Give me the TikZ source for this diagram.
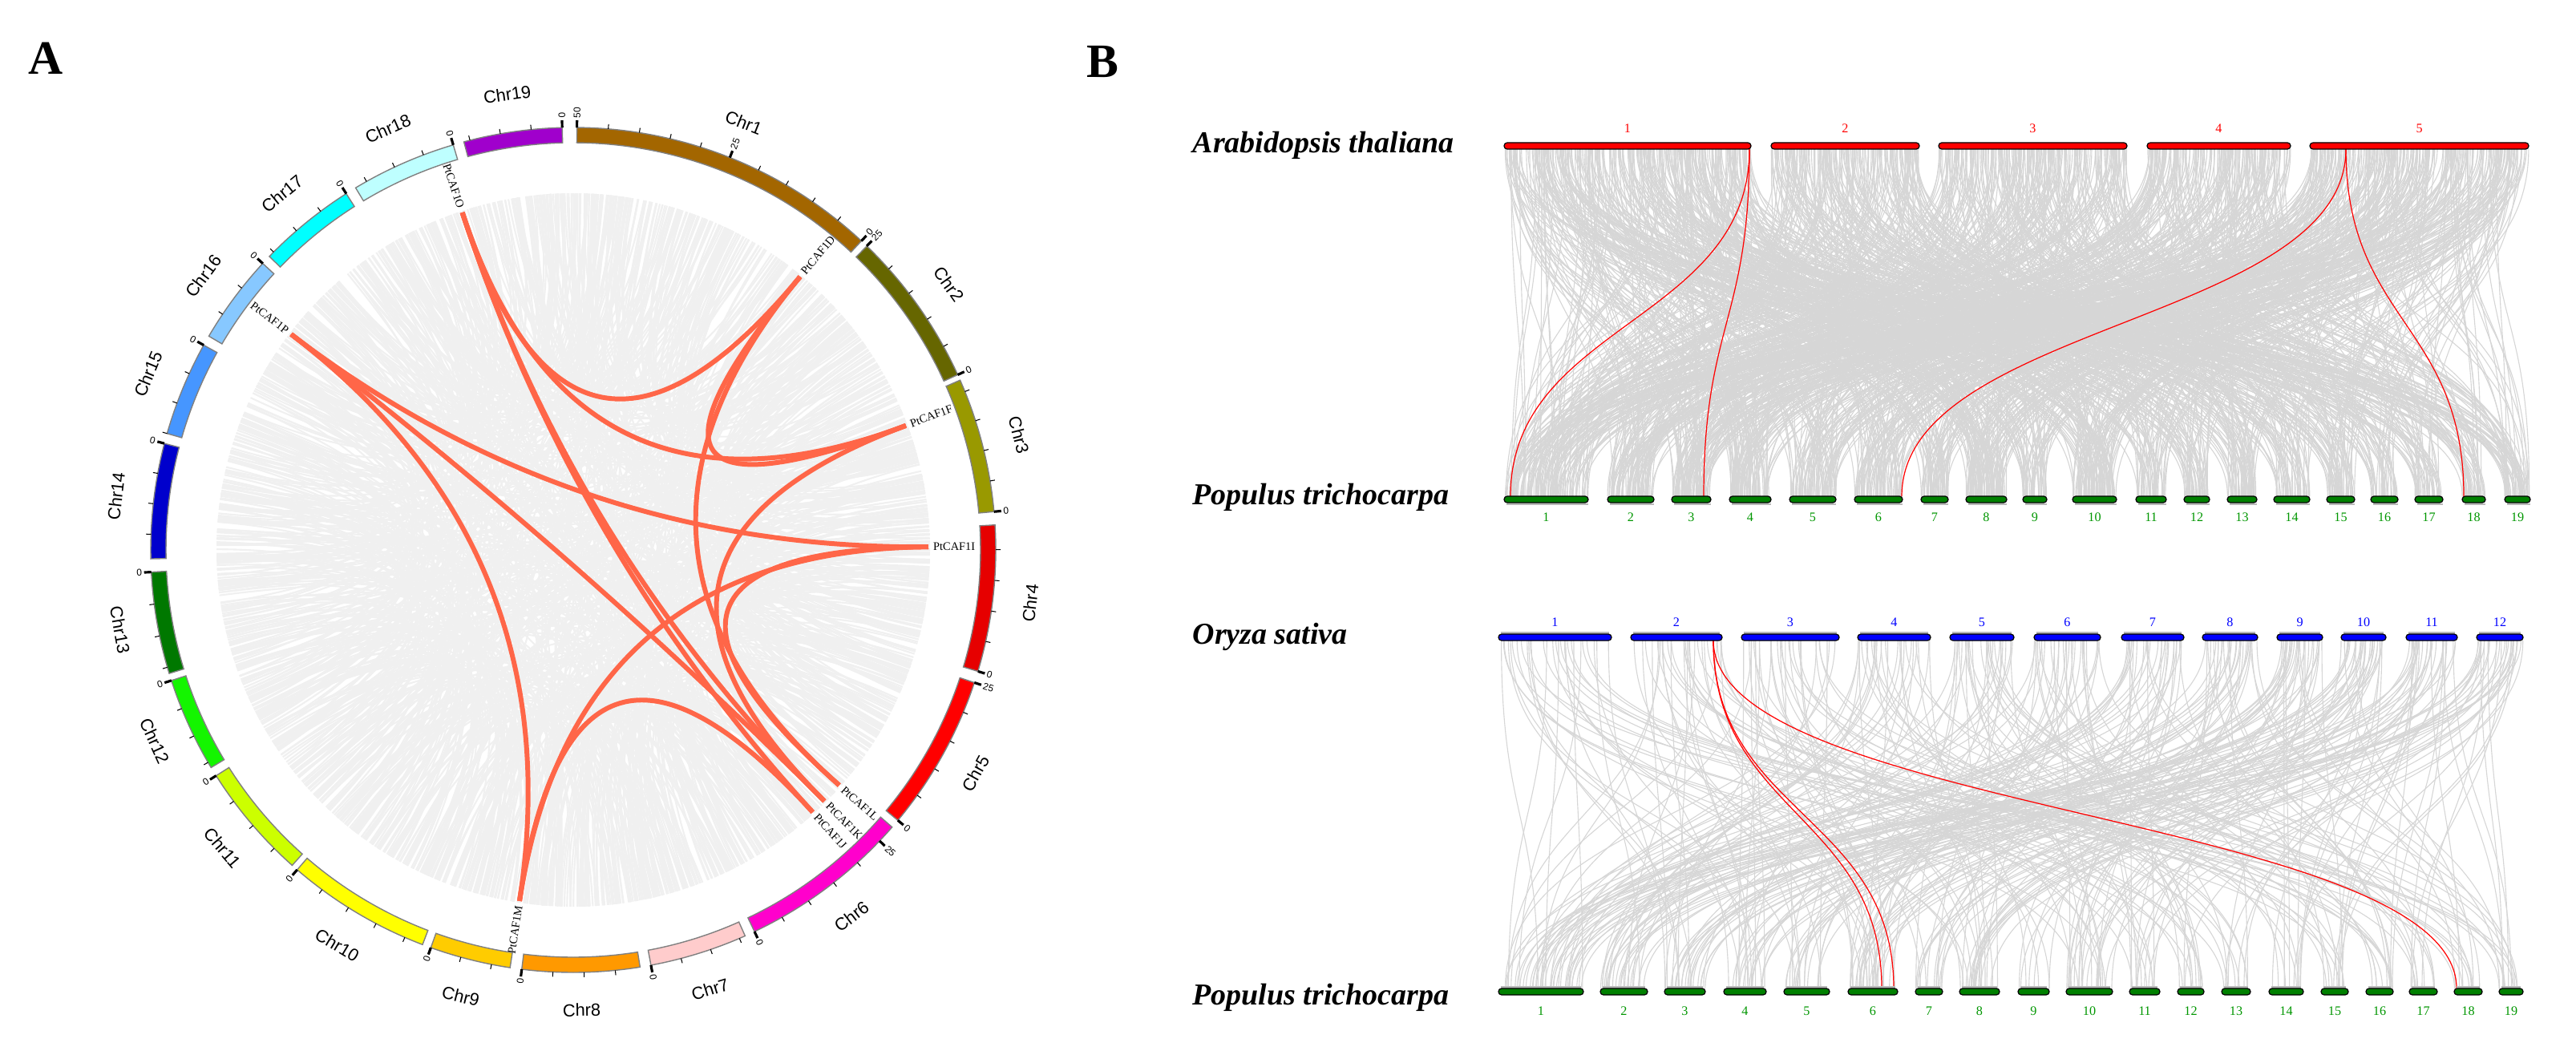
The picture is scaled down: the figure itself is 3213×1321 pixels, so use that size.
\documentclass[tikz,border=0pt]{standalone}
\usepackage{fontspec}
\setmainfont{Liberation Serif}
\setsansfont{Liberation Sans}
\usetikzlibrary{calc}

\definecolor{c1}{RGB}{163,102,0}
\definecolor{c2}{RGB}{102,102,0}
\definecolor{c3}{RGB}{153,153,0}
\definecolor{c4}{RGB}{230,0,0}
\definecolor{c5}{RGB}{255,0,0}
\definecolor{c6}{RGB}{255,0,204}
\definecolor{c7}{RGB}{255,204,204}
\definecolor{c8}{RGB}{255,153,0}
\definecolor{c9}{RGB}{255,204,0}
\definecolor{c10}{RGB}{255,255,0}
\definecolor{c11}{RGB}{204,255,0}
\definecolor{c12}{RGB}{20,245,0}
\definecolor{c13}{RGB}{0,120,0}
\definecolor{c14}{RGB}{0,0,204}
\definecolor{c15}{RGB}{70,150,255}
\definecolor{c16}{RGB}{135,200,255}
\definecolor{c17}{RGB}{0,255,255}
\definecolor{c18}{RGB}{190,255,255}
\definecolor{c19}{RGB}{160,0,204}
\definecolor{cafred}{RGB}{255,102,72}
\definecolor{ribbongray}{RGB}{240,240,240}
\definecolor{syngray}{RGB}{214,214,214}
\definecolor{atred}{RGB}{255,0,0}
\definecolor{ptgreen}{RGB}{0,128,0}
\definecolor{numgreen}{RGB}{0,150,0}
\definecolor{osblue}{RGB}{0,0,255}

\begin{document}
\begin{tikzpicture}[x=0.1mm,y=-0.1mm,
    chrband/.style={draw=gray, line width=0.4pt},
    chrname/.style={font=\sffamily\fontsize{6.2}{7}\selectfont, inner sep=0pt},
    ticklab/.style={font=\sffamily\fontsize{3.4}{4}\selectfont, inner sep=0.3pt},
    minortick/.style={line width=0.3pt},
    majortick/.style={line width=0.9pt},
    genelab/.style={font=\fontsize{4.1}{5}\selectfont, inner sep=0.4pt},
    ribbon/.style={ribbongray, line width=0.6pt},
    caflink/.style={cafred, line width=1.7pt},
    synline/.style={syngray, line width=0.32pt},
    synred/.style={red, line width=0.35pt},
    panel/.style={font=\bfseries\fontsize{17}{20}\selectfont, inner sep=0pt, anchor=base west},
    species/.style={font=\bfseries\itshape\fontsize{10.8}{13}\selectfont, inner sep=0pt, anchor=base west},
    barnum/.style={font=\fontsize{4.6}{5}\selectfont, inner sep=0pt},
    atbar/.style={draw=black, fill=atred, line width=0.35pt, rounded corners=1.1pt},
    ptbar/.style={draw=black, fill=ptgreen, line width=0.35pt, rounded corners=1.1pt},
    osbar/.style={draw=black, fill=osblue, line width=0.35pt, rounded corners=1.1pt},
    shine/.style={fill=gray!55}]
\useasboundingbox (0,0) rectangle (3213,1321);

\node[panel] (labA) at (35,93) {A};
\node[panel] (labB) at (1355,97) {B};

\begin{scope}[shift={(715,686)}]
  \coordinate (ctr) at (0,0);
  \pgfmathsetseed{11}
  \foreach \i in {1,...,900}{
    \pgfmathsetmacro{\ta}{rnd*360-90}
    \pgfmathsetmacro{\tb}{rnd*360-90}
    \draw[ribbon] (\ta:445) .. controls (\ta:148) and (\tb:148) .. (\tb:445);
  }

  \foreach \g/\ang in {D/39.7, F/69.5, I/89.5, L/131.5, K/135, J/137.6, M/188.7, P/307.4, O/341.8}{
    \coordinate (g\g) at (\ang-90:443);
    \ifdim\ang pt>180pt
      \pgfmathsetmacro{\rl}{270-\ang}
      \node[genelab, rotate=\rl, anchor=east] (lab\g) at (\ang-90:447) {PtCAF1\g};
    \else
      \pgfmathsetmacro{\rl}{90-\ang}
      \node[genelab, rotate=\rl, anchor=west] (lab\g) at (\ang-90:447) {PtCAF1\g};
    \fi
  }

  \foreach \a/\b in {O/D, O/F, O/K, O/J, D/F, D/L, P/I, P/K, P/M, F/K, I/L, I/M, M/J}{
    \draw[caflink] (g\a) .. controls ($(ctr)!1/3!(g\a)$) and ($(ctr)!1/3!(g\b)$) .. (g\b);
  }

  \foreach \n/\s/\e/\len in {1/0.5/43/50, 2/44/65.5/25, 3/66.3/84.8/22, 4/86.6/106.7/24,
      5/108.3/129.8/25, 6/131/154.6/28, 7/156/169.4/16, 8/170.9/187/19, 9/188.6/199.7/13,
      10/200.9/220.8/23, 11/221.7/237.7/19, 12/239/252/16, 13/253/267/16, 14/268.8/284.6/19,
      15/286/299/15, 16/300.4/312.7/14, 17/314/327.5/16, 18/329/343.5/17, 19/345/358.5/16}{
    \filldraw[chrband, fill=c\n] (\s-90:508) arc[start angle=\s-90, end angle=\e-90, radius=508]
      -- (\e-90:527) arc[start angle=\e-90, end angle=\s-90, radius=527] -- cycle;
    \pgfmathsetmacro{\m}{(\s+\e)/2}
    \pgfmathsetmacro{\rot}{(\m>90 && \m<270) ? 180-\m : -\m}
    \node[chrname, rotate=\rot] (chr\n) at (\m-90:574) {Chr\n};
    \pgfmathsetmacro{\stp}{(\e-\s)/\len}
    \foreach \k in {0,5,...,50}{
      \pgfmathtruncatemacro{\ok}{\k<=\len}
      \ifnum\ok=1
        \pgfmathsetmacro{\tk}{\e-\k*\stp}
        \pgfmathtruncatemacro{\major}{mod(\k,25)==0}
        \ifnum\major=1
          \draw[majortick] (\tk-90:527) -- (\tk-90:536);
          \ifdim\tk pt>180pt
            \pgfmathsetmacro{\rl}{270-\tk}
            \node[ticklab, rotate=\rl, anchor=east] (tick\n-\k) at (\tk-90:537) {\k};
          \else
            \pgfmathsetmacro{\rl}{90-\tk}
            \node[ticklab, rotate=\rl, anchor=west] (tick\n-\k) at (\tk-90:537) {\k};
          \fi
        \else
          \draw[minortick] (\tk-90:527) -- (\tk-90:533);
        \fi
      \fi
    }
  }
\end{scope}

\foreach \n/\a/\b in {1/1876/2184, 2/2209/2394, 3/2418/2653, 4/2678/2857, 5/2881/3154}{
  \coordinate (at\n-w) at (\a,186);
  \coordinate (at\n-e) at (\b,186);
}
\foreach \n/\a/\b in {1/1876/1981, 2/2005/2063, 3/2085/2134, 4/2157/2209, 5/2232/2290,
    6/2313/2373, 7/2396/2430, 8/2452/2503, 9/2523/2553, 10/2585/2640, 11/2664/2702,
    12/2724/2756, 13/2778/2815, 14/2836/2881, 15/2902/2937, 16/2957/2991, 17/3012/3047,
    18/3071/3100, 19/3124/3156}{
  \coordinate (pt\n-w) at (\a,619);
  \coordinate (pt\n-e) at (\b,619);
}
\foreach \n/\a/\b in {1/1869/2010, 2/2034/2148, 3/2172/2294, 4/2317/2408, 5/2432/2512,
    6/2537/2620, 7/2646/2724, 8/2747/2816, 9/2840/2897, 10/2920/2976, 11/3001/3065, 12/3089/3147}{
  \coordinate (os\n-w) at (\a,799);
  \coordinate (os\n-e) at (\b,799);
}
\foreach \n/\a/\b in {1/1869/1975, 2/1996/2055, 3/2076/2127, 4/2150/2203, 5/2225/2282,
    6/2305/2367, 7/2389/2423, 8/2444/2494, 9/2517/2556, 10/2577/2635, 11/2656/2694,
    12/2716/2749, 13/2771/2807, 14/2830/2873, 15/2895/2929, 16/2951/2985, 17/3005/3040,
    18/3061/3096, 19/3117/3147}{
  \coordinate (pb\n-w) at (\a,1233);
  \coordinate (pb\n-e) at (\b,1233);
}

\pgfmathdeclarerandomlist{ptchr}{{pt1}{pt1}{pt1}{pt2}{pt2}{pt3}{pt3}{pt4}{pt4}{pt5}{pt5}{pt6}{pt6}
  {pt7}{pt8}{pt8}{pt9}{pt10}{pt10}{pt11}{pt12}{pt13}{pt14}{pt15}{pt16}{pt17}{pt18}{pt19}}
\pgfmathdeclarerandomlist{pbchr}{{pb1}{pb1}{pb1}{pb2}{pb2}{pb3}{pb3}{pb4}{pb4}{pb5}{pb5}{pb6}{pb6}
  {pb7}{pb8}{pb8}{pb9}{pb10}{pb10}{pb11}{pb12}{pb13}{pb14}{pb15}{pb16}{pb17}{pb18}{pb19}}

\foreach \n/\cnt in {1/330, 2/200, 3/250, 4/190, 5/290}{
  \foreach \i in {1,...,\cnt}{
    \pgfmathsetmacro{\fa}{rnd}
    \pgfmathsetmacro{\fb}{rnd}
    \pgfmathrandomitem{\pc}{ptchr}
    \path ($(at\n-w)!\fa!(at\n-e)$) coordinate (u) ($(\pc-w)!\fb!(\pc-e)$) coordinate (v);
    \draw[synline] (u) .. controls ($(u)+(0,240)$) and ($(v)+(0,-240)$) .. (v);
  }
}
\foreach \n in {1,...,12}{
  \foreach \i in {1,...,30}{
    \pgfmathsetmacro{\fa}{rnd}
    \pgfmathsetmacro{\fb}{rnd}
    \pgfmathrandomitem{\pc}{pbchr}
    \path ($(os\n-w)!\fa!(os\n-e)$) coordinate (u) ($(\pc-w)!\fb!(\pc-e)$) coordinate (v);
    \draw[synline] (u) .. controls ($(u)+(0,225)$) and ($(v)+(0,-225)$) .. (v);
  }
}

\coordinate (a1x) at (2182,186);
\coordinate (a5x) at (2926,186);
\coordinate (p1x) at (1884,619);
\coordinate (p3x) at (2125,619);
\coordinate (p6x) at (2372,619);
\coordinate (p18x) at (3073,619);
\coordinate (o2x) at (2137,799);
\coordinate (q6x) at (2347,1233);
\coordinate (q6y) at (2362,1233);
\coordinate (q18x) at (3064,1233);
\foreach \u/\v in {a1x/p1x, a1x/p3x, a5x/p6x, a5x/p18x, o2x/q6x, o2x/q6y, o2x/q18x}{
  \draw[synred] (\u) .. controls ($(\u)+(0,215)$) and ($(\v)+(0,-215)$) .. (\v);
}

\foreach \n/\a/\b in {1/1876/2184, 2/2209/2394, 3/2418/2653, 4/2678/2857, 5/2881/3154}{
  \draw[atbar] (\a,178) rectangle (\b,186);
  \node[barnum, text=atred] (atn\n) at ({(\a+\b)/2},160) {\n};
}
\foreach \n/\a/\b in {1/1876/1981, 2/2005/2063, 3/2085/2134, 4/2157/2209, 5/2232/2290,
    6/2313/2373, 7/2396/2430, 8/2452/2503, 9/2523/2553, 10/2585/2640, 11/2664/2702,
    12/2724/2756, 13/2778/2815, 14/2836/2881, 15/2902/2937, 16/2957/2991, 17/3012/3047,
    18/3071/3100, 19/3124/3156}{
  \draw[ptbar] (\a,619) rectangle (\b,627);
  \fill[shine] (\a+3,627.5) rectangle (\b,629.5);
  \node[barnum, text=numgreen] (ptn\n) at ({(\a+\b)/2},645) {\n};
}
\foreach \n/\a/\b in {1/1869/2010, 2/2034/2148, 3/2172/2294, 4/2317/2408, 5/2432/2512,
    6/2537/2620, 7/2646/2724, 8/2747/2816, 9/2840/2897, 10/2920/2976, 11/3001/3065, 12/3089/3147}{
  \fill[shine] (\a+3,788) rectangle (\b-3,792);
  \draw[osbar] (\a,791) rectangle (\b,799);
  \node[barnum, text=osblue] (osn\n) at ({(\a+\b)/2},776) {\n};
}
\foreach \n/\a/\b in {1/1869/1975, 2/1996/2055, 3/2076/2127, 4/2150/2203, 5/2225/2282,
    6/2305/2367, 7/2389/2423, 8/2444/2494, 9/2517/2556, 10/2577/2635, 11/2656/2694,
    12/2716/2749, 13/2771/2807, 14/2830/2873, 15/2895/2929, 16/2951/2985, 17/3005/3040,
    18/3061/3096, 19/3117/3147}{
  \fill[shine] (\a+3,1230) rectangle (\b-3,1234);
  \draw[ptbar] (\a,1233) rectangle (\b,1241);
  \node[barnum, text=numgreen] (pbn\n) at ({(\a+\b)/2},1261) {\n};
}

\node[species] (ath) at (1487,191) {Arabidopsis thaliana};
\node[species] (ptr1) at (1487,629) {Populus trichocarpa};
\node[species] (osa) at (1487,803) {Oryza sativa};
\node[species] (ptr2) at (1487,1253) {Populus trichocarpa};
\end{tikzpicture}
\end{document}
